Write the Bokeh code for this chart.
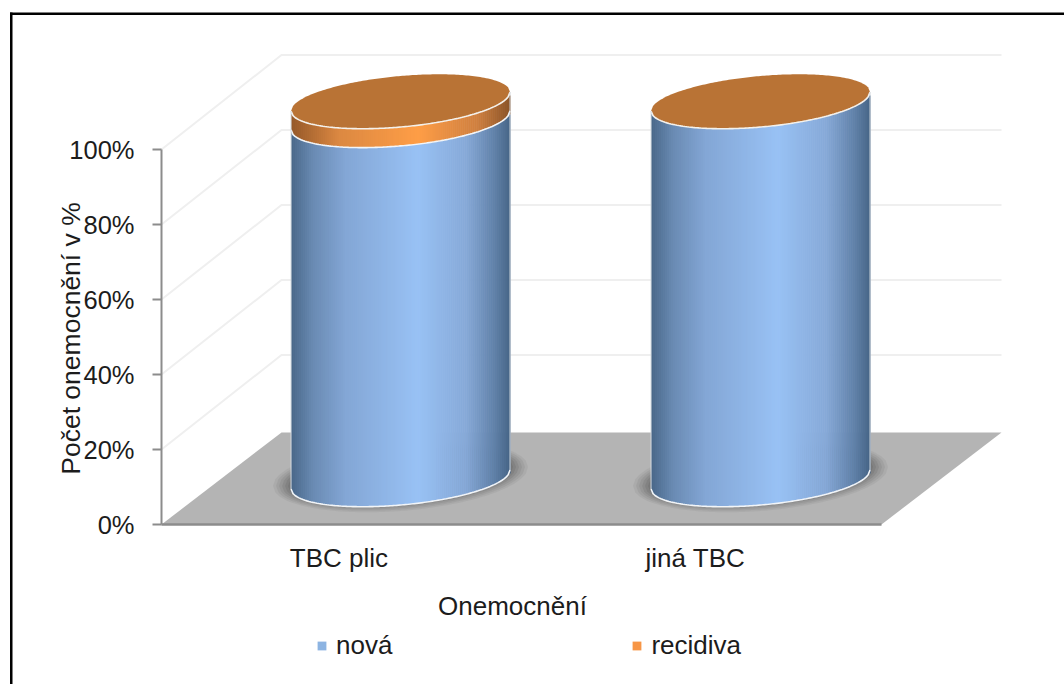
import numpy as np
from bokeh.plotting import figure
from bokeh.embed import file_html
from bokeh.resources import INLINE
from bokeh.models import Range1d, FixedTicker, Legend, LegendItem, Label, BoxAnnotation, PrintfTickFormatter, LinearAxis

categories = ["TBC plic", "jiná TBC"]
nova = [95.0, 100.0]
recidiva = [5.0, 0.0]
y_ticks = [0, 20, 40, 60, 80, 100]

FONT = "Liberation Sans"
PX_X, PX_Y = 360.0, 3.75
FLOOR_DX, FLOOR_DY = 120 / PX_X, 92 / PX_Y
GRID_DX, GRID_DY = 120 / PX_X, 94.5 / PX_Y
BASE_X, BASE_Y = 0.164, 45 / PX_Y
BAR_SCALE = 1.008  # the cylinders stand nearer the back wall, so they draw slightly taller
W, K, H = 109.5 / PX_X, 9.5 / PX_Y, 25.5 / PX_Y
CW, CH = 1064, 684
X0, Y0 = 161, 524

p = figure(width=CW, height=CH, output_backend="svg", toolbar_location=None,
           x_range=Range1d(-X0 / PX_X, (CW - X0) / PX_X), y_range=Range1d(-(CH - Y0) / PX_Y, Y0 / PX_Y),
           x_axis_location=None, y_axis_location=None,
           min_border=0, outline_line_color=None, background_fill_color="white", border_fill_color="white")
p.grid.visible = False

# floor and back wall
p.patch([0, 2, 2 + FLOOR_DX, FLOOR_DX], [0, 0, FLOOR_DY, FLOOR_DY], fill_color="#b4b4b4", line_color=None)
for t in y_ticks[1:]:
    p.line([0, GRID_DX, 2 + GRID_DX], [t, t + GRID_DY, t + GRID_DY], line_color="#efefef", line_width=2)


def ramp(u, stops):
    pos = [s[0] for s in stops]
    rgb = np.array([[int(s[1][i:i + 2], 16) for i in (1, 3, 5)] for s in stops])
    c = [np.interp(u, pos, rgb[:, j]) for j in range(3)]
    return ["#%02x%02x%02x" % (int(a), int(b), int(d)) for a, b, d in zip(*c)]


BLUE = [(0, "#496789"), (.1, "#6a8bb3"), (.25, "#84a7d6"), (.58, "#99c2f5"), (.8, "#86a9d8"), (.93, "#5f80a8"), (1, "#466486")]
ORANGE = [(0, "#95592a"), (.22, "#dc8942"), (.58, "#ff9e47"), (.85, "#cf7f3f"), (1, "#8a5327")]

u = np.linspace(-1, 1, 111)
lower = K * u - H * np.sqrt(1 - u ** 2)
upper = K * u + H * np.sqrt(1 - u ** 2)
ue = (u[:-1] + u[1:]) / 2
low_e = K * ue - H * np.sqrt(1 - ue ** 2)

legend_r = {}
legend_r["nová"] = p.quad(left=[0], right=[0], top=[0], bottom=[0], fill_color="#8db4e2", line_color=None)
legend_r["recidiva"] = p.quad(left=[0], right=[0], top=[0], bottom=[0], fill_color="#f79646", line_color=None)

for i, cat in enumerate(categories):
    cx, cy = i + 0.5 + BASE_X, BASE_Y
    # soft shadow on the floor
    for grow, a in [(18, .08), (15, .1), (12, .12), (9, .14), (6, .16), (3, .2)]:
        p.patch(cx + (W + grow / PX_X) * np.r_[u, u[::-1]],
                cy + 3 / PX_Y + np.r_[K * u - (H + grow / PX_Y * .5) * np.sqrt(1 - u ** 2),
                                      (K * u + (H + grow / PX_Y * .5) * np.sqrt(1 - u ** 2))[::-1]],
                fill_color="#505050", fill_alpha=a, line_color=None)

    y0 = cy
    for val, stops in ((nova[i], BLUE), (recidiva[i], ORANGE)):
        y1 = y0 + val * BAR_SCALE
        if val > 0:
            left = cx + W * u[:-1]
            right = cx + W * u[1:] + 0.6 / PX_X
            p.quad(left=left, right=right, bottom=y0 + low_e, top=y1 + low_e,
                   fill_color=ramp((ue + 1) / 2, stops), line_color=None)
            p.line(cx + W * u, y0 + lower, line_color="#f2f5f8", line_width=1.6)
        y0 = y1
    p.patch(cx + W * np.r_[u, u[::-1]], y0 + np.r_[lower, upper[::-1]], fill_color="#b97335", line_color=None)
    p.line(cx + W * u, y0 + lower, line_color="#f4f1ec", line_width=1.6)
    for s in (-1, 1):
        p.line([cx + s * W, cx + s * W], [cy + s * K, y0 + s * K], line_color="#d5dae0", line_width=1)

# axes
yax = LinearAxis(fixed_location=0, ticker=FixedTicker(ticks=y_ticks), formatter=PrintfTickFormatter(format="%d%%"),
                 bounds=(0, 100), axis_line_color="#8c8c8c", axis_line_width=2,
                 major_tick_line_color="#8c8c8c", major_tick_line_width=2, major_tick_out=9, major_tick_in=0,
                 minor_tick_line_color=None, major_label_text_font=FONT, major_label_text_font_size="25.5px",
                 major_label_text_color="#1c1c1c", major_label_standoff=18)
p.add_layout(yax, "left")
x_ticks = [0.493, 1.483]
xax = LinearAxis(fixed_location=0, ticker=FixedTicker(ticks=x_ticks),
                 major_label_overrides={x_ticks[0]: categories[0], x_ticks[1]: categories[1]},
                 bounds=(0, 2), axis_line_color="#8c8c8c", axis_line_width=2.5,
                 major_tick_line_color=None, minor_tick_line_color=None,
                 major_label_text_font=FONT, major_label_text_font_size="26px",
                 major_label_text_color="#1c1c1c", major_label_standoff=12)
p.add_layout(xax, "below")

p.add_layout(Label(x=(70 - X0) / PX_X, y=(Y0 - 338) / PX_Y, text="Počet onemocnění v %", angle=90, angle_units="deg",
                   text_font=FONT, text_font_size="26.5px", text_color="#1c1c1c",
                   text_align="center", text_baseline="middle"))
p.add_layout(Label(x=(512 - X0) / PX_X, y=(Y0 - 605) / PX_Y, text="Onemocnění",
                   text_font=FONT, text_font_size="26px", text_color="#1c1c1c",
                   text_align="center", text_baseline="middle"))

legend = Legend(items=[LegendItem(label=k, renderers=[r]) for k, r in legend_r.items()],
                orientation="horizontal", location=(316, 23), background_fill_alpha=0, border_line_color=None,
                glyph_width=11, glyph_height=11, label_standoff=9, spacing=239, padding=0, margin=0,
                label_text_font=FONT, label_text_font_size="26px", label_text_color="#1c1c1c")
p.add_layout(legend)

# picture frame
p.add_layout(BoxAnnotation(left=(9.5 - X0) / PX_X, right=(12 - X0) / PX_X, bottom=p.y_range.start, top=(Y0 - 12) / PX_Y,
                           fill_color="black", fill_alpha=1, line_color=None))
p.add_layout(BoxAnnotation(left=(9.5 - X0) / PX_X, right=p.x_range.end, bottom=(Y0 - 14.5) / PX_Y, top=(Y0 - 12) / PX_Y,
                           fill_color="black", fill_alpha=1, line_color=None))

open("out.html", "w").write(file_html(p, INLINE))
